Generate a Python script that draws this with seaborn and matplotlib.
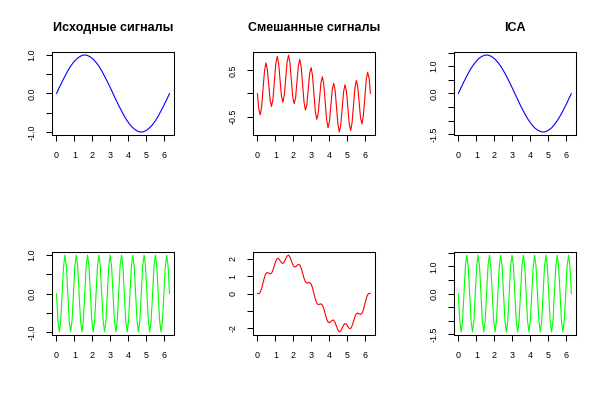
import numpy as np
import matplotlib
matplotlib.use('Agg')
import matplotlib.pyplot as plt
import seaborn as sns

# time grid (0 .. 2*pi)
t = [0.000, 0.079, 0.157, 0.236, 0.314, 0.393, 0.471, 0.550, 0.628, 0.707,
     0.785, 0.864, 0.942, 1.021, 1.100, 1.178, 1.257, 1.335, 1.414, 1.492,
     1.571, 1.649, 1.728, 1.806, 1.885, 1.963, 2.042, 2.121, 2.199, 2.278,
     2.356, 2.435, 2.513, 2.592, 2.670, 2.749, 2.827, 2.906, 2.985, 3.063,
     3.142, 3.220, 3.299, 3.377, 3.456, 3.534, 3.613, 3.691, 3.770, 3.848,
     3.927, 4.006, 4.084, 4.163, 4.241, 4.320, 4.398, 4.477, 4.555, 4.634,
     4.712, 4.791, 4.869, 4.948, 5.027, 5.105, 5.184, 5.262, 5.341, 5.419,
     5.498, 5.576, 5.655, 5.733, 5.812, 5.890, 5.969, 6.048, 6.126, 6.205,
     6.283]

# source signals
src_slow = [0.00, 0.08, 0.16, 0.23, 0.31, 0.38, 0.45, 0.52, 0.59, 0.65,
            0.71, 0.76, 0.81, 0.85, 0.89, 0.92, 0.95, 0.97, 0.99, 1.00,
            1.00, 1.00, 0.99, 0.97, 0.95, 0.92, 0.89, 0.85, 0.81, 0.76,
            0.71, 0.65, 0.59, 0.52, 0.45, 0.38, 0.31, 0.23, 0.16, 0.08,
            0.00, -0.08, -0.16, -0.23, -0.31, -0.38, -0.45, -0.52, -0.59, -0.65,
            -0.71, -0.76, -0.81, -0.85, -0.89, -0.92, -0.95, -0.97, -0.99, -1.00,
            -1.00, -1.00, -0.99, -0.97, -0.95, -0.92, -0.89, -0.85, -0.81, -0.76,
            -0.71, -0.65, -0.59, -0.52, -0.45, -0.38, -0.31, -0.23, -0.16, -0.08,
            0.00]
src_fast = [0.00, -0.71, -1.00, -0.71, 0.00, 0.71, 1.00, 0.71,
            0.00, -0.71, -1.00, -0.71, 0.00, 0.71, 1.00, 0.71,
            0.00, -0.71, -1.00, -0.71, 0.00, 0.71, 1.00, 0.71,
            0.00, -0.71, -1.00, -0.71, 0.00, 0.71, 1.00, 0.71,
            0.00, -0.71, -1.00, -0.71, 0.00, 0.71, 1.00, 0.71,
            0.00, -0.71, -1.00, -0.71, 0.00, 0.71, 1.00, 0.71,
            0.00, -0.71, -1.00, -0.71, 0.00, 0.71, 1.00, 0.71,
            0.00, -0.71, -1.00, -0.71, 0.00, 0.71, 1.00, 0.71,
            0.00, -0.71, -1.00, -0.71, 0.00, 0.71, 1.00, 0.71,
            0.00, -0.71, -1.00, -0.71, 0.00, 0.71, 1.00, 0.71,
            0.00]

# mixed signals
mix_1 = [0.00, -0.34, -0.46, -0.29, 0.10, 0.48, 0.66, 0.53, 0.19, -0.15,
         -0.28, -0.12, 0.26, 0.63, 0.80, 0.66, 0.30, -0.05, -0.19, -0.04,
         0.32, 0.68, 0.83, 0.67, 0.30, -0.07, -0.22, -0.09, 0.26, 0.60,
         0.74, 0.57, 0.19, -0.19, -0.36, -0.24, 0.10, 0.44, 0.56, 0.39,
         0.00, -0.39, -0.56, -0.44, -0.10, 0.24, 0.36, 0.19, -0.19, -0.57,
         -0.74, -0.60, -0.26, 0.09, 0.22, 0.07, -0.30, -0.67, -0.83, -0.68,
         -0.32, 0.04, 0.19, 0.05, -0.30, -0.66, -0.80, -0.63, -0.26, 0.12,
         0.28, 0.15, -0.19, -0.53, -0.66, -0.48, -0.10, 0.29, 0.46, 0.34,
         0.00]
mix_2 = [0.00, -0.01, 0.07, 0.30, 0.62, 0.94, 1.15, 1.21, 1.18, 1.13,
         1.17, 1.35, 1.62, 1.87, 2.02, 2.02, 1.90, 1.78, 1.74, 1.82,
         2.00, 2.16, 2.22, 2.11, 1.90, 1.68, 1.54, 1.54, 1.62, 1.69,
         1.65, 1.47, 1.18, 0.88, 0.67, 0.60, 0.62, 0.64, 0.55, 0.33,
         0.00, -0.33, -0.55, -0.64, -0.62, -0.60, -0.67, -0.88, -1.18, -1.47,
         -1.65, -1.69, -1.62, -1.54, -1.54, -1.68, -1.90, -2.11, -2.22, -2.16,
         -2.00, -1.82, -1.74, -1.78, -1.90, -2.02, -2.02, -1.87, -1.62, -1.35,
         -1.17, -1.13, -1.18, -1.21, -1.15, -0.94, -0.62, -0.30, -0.07, 0.01,
         0.00]

# ICA estimates
ica_1 = [0.00, 0.11, 0.22, 0.33, 0.44, 0.54, 0.64, 0.74, 0.83, 0.92,
         1.00, 1.07, 1.14, 1.20, 1.26, 1.30, 1.34, 1.37, 1.39, 1.41,
         1.41, 1.41, 1.39, 1.37, 1.34, 1.30, 1.26, 1.20, 1.14, 1.07,
         1.00, 0.92, 0.83, 0.74, 0.64, 0.54, 0.44, 0.33, 0.22, 0.11,
         0.00, -0.11, -0.22, -0.33, -0.44, -0.54, -0.64, -0.74, -0.83, -0.92,
         -1.00, -1.07, -1.14, -1.20, -1.26, -1.30, -1.34, -1.37, -1.39, -1.41,
         -1.41, -1.41, -1.39, -1.37, -1.34, -1.30, -1.26, -1.20, -1.14, -1.07,
         -1.00, -0.92, -0.83, -0.74, -0.64, -0.54, -0.44, -0.33, -0.22, -0.11,
         0.00]
ica_2 = [0.00, -1.00, -1.41, -1.00, 0.00, 1.00, 1.41, 1.00,
         0.00, -1.00, -1.41, -1.00, 0.00, 1.00, 1.41, 1.00,
         0.00, -1.00, -1.41, -1.00, 0.00, 1.00, 1.41, 1.00,
         0.00, -1.00, -1.41, -1.00, 0.00, 1.00, 1.41, 1.00,
         0.00, -1.00, -1.41, -1.00, 0.00, 1.00, 1.41, 1.00,
         0.00, -1.00, -1.41, -1.00, 0.00, 1.00, 1.41, 1.00,
         0.00, -1.00, -1.41, -1.00, 0.00, 1.00, 1.41, 1.00,
         0.00, -1.00, -1.41, -1.00, 0.00, 1.00, 1.41, 1.00,
         0.00, -1.00, -1.41, -1.00, 0.00, 1.00, 1.41, 1.00,
         0.00, -1.00, -1.41, -1.00, 0.00, 1.00, 1.41, 1.00,
         0.00]

titles = ['Исходные сигналы', 'Смешанные сигналы', 'ICA']
x_ticks = [0, 1, 2, 3, 4, 5, 6]

# y ticks and labels per panel (R drops labels that would overlap)
yt_unit = [-1.0, -0.5, 0.0, 0.5, 1.0]
yl_unit = ['-1.0', '', '0.0', '', '1.0']
yt_mix1 = [-0.5, 0.0, 0.5]
yl_mix1 = ['-0.5', '', '0.5']
yt_mix2 = [-2, -1, 0, 1, 2]
yl_mix2 = ['-2', '', '0', '1', '2']
yt_ica = [-1.5, -1.0, -0.5, 0.0, 0.5, 1.0, 1.5]
yl_ica = ['-1.5', '', '', '0.0', '', '1.0', '']

panels = [
    (0, 0, src_slow, 'blue', yt_unit, yl_unit),
    (0, 1, mix_1, 'red', yt_mix1, yl_mix1),
    (0, 2, ica_1, 'blue', yt_ica, yl_ica),
    (1, 0, src_fast, '#00FF00', yt_unit, yl_unit),
    (1, 1, mix_2, 'red', yt_mix2, yl_mix2),
    (1, 2, ica_2, '#00FF00', yt_ica, yl_ica),
]

sns.set_style('ticks')
plt.rcParams['font.family'] = ['Liberation Sans', 'DejaVu Sans']
plt.rcParams['text.color'] = 'black'
plt.rcParams['xtick.labelcolor'] = 'black'
plt.rcParams['ytick.labelcolor'] = 'black'

fig, axes = plt.subplots(2, 3, figsize=(6.03, 4.0), dpi=100)
fig.subplots_adjust(left=0.0862, right=0.955, top=0.87, bottom=0.1625,
                    wspace=0.646, hspace=1.41)

for r, c, y, col, yt, yl in panels:
    ax = axes[r, c]
    sns.lineplot(x=t, y=y, ax=ax, color=col, linewidth=0.8)
    ax.margins(x=0.04, y=0.04)
    ax.set_xticks(x_ticks)
    ax.set_yticks(yt)
    ax.set_yticklabels(yl, rotation=90, va='center')
    ax.tick_params(axis='x', direction='out', length=4.2, width=0.75,
                   labelsize=6.4, pad=7.5, color='black', labelcolor='black')
    ax.tick_params(axis='y', direction='out', length=4.2, width=0.75,
                   labelsize=6.4, pad=7.0, color='black', labelcolor='black')
    for sp in ax.spines.values():
        sp.set_color('black')
        sp.set_linewidth(0.75)
    if r == 0:
        ax.set_title(titles[c], fontsize=9.0, fontweight='bold', pad=15,
                     color='black')

plt.savefig('out.png', dpi=100)
